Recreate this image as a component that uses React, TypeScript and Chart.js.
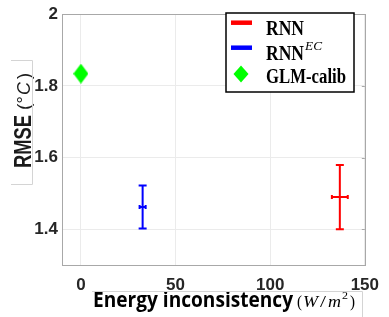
import React, { useEffect, useRef } from "react";
import { Chart, registerables } from "chart.js";

Chart.register(...registerables);

const methods = ["RNN", "RNN^EC", "GLM-calib"];
const colors = ["#ff0000", "#0000ff", "#00ff00"];
const energyX = [136.8, 32.6, 0];
const energyXErr = [4.2, 1.6, 0];
const rmse = [1.49, 1.462, 1.834];
const rmseLow = [1.4, 1.402, null];
const rmseHigh = [1.579, 1.522, null];
const xTicks = [0, 50, 100, 150];
const yTicks = [1.4, 1.6, 1.8, 2];

function makeDiamond(w: number, h: number, color: string) {
  const c = document.createElement("canvas");
  c.width = w;
  c.height = h;
  const g = c.getContext("2d")!;
  g.fillStyle = color;
  g.beginPath();
  g.moveTo(w / 2, 0);
  g.lineTo(w, h / 2);
  g.lineTo(w / 2, h);
  g.lineTo(0, h / 2);
  g.closePath();
  g.fill();
  return c;
}

function fitText(ctx: CanvasRenderingContext2D, text: string, x: number, y: number, width: number) {
  const m = ctx.measureText(text).width;
  ctx.save();
  ctx.translate(x, y);
  ctx.scale(width / m, 1);
  ctx.fillText(text, 0, 0);
  ctx.restore();
}

const decorPlugin = {
  id: "decor",
  afterDatasetsDraw(chart: any) {
    const ctx: CanvasRenderingContext2D = chart.ctx;
    const xs = chart.scales.x;
    const ys = chart.scales.y;
    const a = chart.chartArea;
    ctx.save();
    // error bars
    for (let i = 0; i < methods.length; i++) {
      if (rmseLow[i] == null) continue;
      ctx.strokeStyle = colors[i];
      ctx.lineWidth = 2;
      const cx = xs.getPixelForValue(energyX[i]);
      const cy = ys.getPixelForValue(rmse[i]);
      const yl = ys.getPixelForValue(rmseLow[i] as number);
      const yh = ys.getPixelForValue(rmseHigh[i] as number);
      ctx.beginPath();
      ctx.moveTo(cx, yl);
      ctx.lineTo(cx, yh);
      ctx.moveTo(cx - 4, yl);
      ctx.lineTo(cx + 4, yl);
      ctx.moveTo(cx - 4, yh);
      ctx.lineTo(cx + 4, yh);
      const xl = xs.getPixelForValue(energyX[i] - energyXErr[i]);
      const xh = xs.getPixelForValue(energyX[i] + energyXErr[i]);
      ctx.moveTo(xl, cy);
      ctx.lineTo(xh, cy);
      ctx.moveTo(xl, cy - 2);
      ctx.lineTo(xl, cy + 2);
      ctx.moveTo(xh, cy - 2);
      ctx.lineTo(xh, cy + 2);
      ctx.stroke();
    }
    // plot box
    ctx.strokeStyle = "#a8a8a8";
    ctx.lineWidth = 1;
    ctx.strokeRect(Math.round(a.left) + 0.5, Math.round(a.top) + 0.5, Math.round(a.right - a.left), Math.round(a.bottom - a.top));
    ctx.beginPath();
    for (const t of yTicks) {
      const py = Math.round(ys.getPixelForValue(t)) + 0.5;
      ctx.moveTo(a.right, py);
      ctx.lineTo(a.right - 3, py);
    }
    ctx.stroke();

    // legend
    const lx = 226, ly = 13, lw = 128, lh = 79;
    ctx.fillStyle = "#ffffff";
    ctx.fillRect(lx, ly, lw, lh);
    ctx.strokeStyle = "#000000";
    ctx.lineWidth = 1.5;
    ctx.strokeRect(lx, ly, lw, lh);
    ctx.lineWidth = 4.5;
    ctx.strokeStyle = colors[0];
    ctx.beginPath();
    ctx.moveTo(231, 22.7);
    ctx.lineTo(252, 22.7);
    ctx.stroke();
    ctx.strokeStyle = colors[1];
    ctx.beginPath();
    ctx.moveTo(231, 47.7);
    ctx.lineTo(252, 47.7);
    ctx.stroke();
    ctx.fillStyle = colors[2];
    ctx.beginPath();
    ctx.moveTo(241, 65.5);
    ctx.lineTo(248.5, 74);
    ctx.lineTo(241, 82.5);
    ctx.lineTo(233.5, 74);
    ctx.closePath();
    ctx.fill();
    ctx.fillStyle = "#000000";
    ctx.textBaseline = "alphabetic";
    ctx.textAlign = "left";
    ctx.font = 'bold 20px "Liberation Serif"';
    fitText(ctx, "RNN", 266, 35, 38);
    fitText(ctx, "RNN", 266, 60, 38);
    fitText(ctx, "GLM-calib", 266, 83, 80);
    ctx.font = 'italic 13px "Liberation Serif"';
    fitText(ctx, "EC", 305, 50, 17);

    // x label
    ctx.fillStyle = "#000000";
    ctx.font = 'bold 21px "Open Sans"';
    fitText(ctx, "Energy inconsistency", 93, 307, 200);
    ctx.font = '17px "Liberation Serif"';
    fitText(ctx, "(", 297, 307, 5);
    ctx.font = 'italic 17px "Liberation Serif"';
    fitText(ctx, "W", 303, 307, 15);
    ctx.font = '17px "Liberation Serif"';
    fitText(ctx, "/", 320, 307, 6);
    ctx.font = 'italic 17px "Liberation Serif"';
    fitText(ctx, "m", 328, 307, 13);
    ctx.font = '11px "Liberation Serif"';
    fitText(ctx, "2", 342, 299, 6);
    ctx.font = '17px "Liberation Serif"';
    fitText(ctx, ")", 350, 307, 5);
    ctx.strokeStyle = "#d4d4d4";
    ctx.lineWidth = 1;
    ctx.beginPath();
    ctx.moveTo(92, 291.5);
    ctx.lineTo(362.5, 291.5);
    ctx.lineTo(362.5, 317);
    ctx.stroke();

    // y label
    ctx.save();
    ctx.translate(31, 168);
    ctx.rotate(-Math.PI / 2);
    ctx.fillStyle = "#1a1a1a";
    ctx.font = 'bold 23px "Liberation Sans"';
    fitText(ctx, "RMSE", 0, 0, 53);
    ctx.font = '18px "Liberation Sans"';
    fitText(ctx, "(°", 58, -1, 14);
    ctx.font = 'italic 18px "Liberation Sans"';
    fitText(ctx, "C", 73, -1, 13);
    ctx.font = '18px "Liberation Sans"';
    fitText(ctx, ")", 89, -1, 6);
    ctx.restore();
    ctx.strokeStyle = "#d4d4d4";
    ctx.beginPath();
    ctx.moveTo(11, 60.5);
    ctx.lineTo(32.5, 60.5);
    ctx.lineTo(32.5, 184.5);
    ctx.lineTo(11, 184.5);
    ctx.stroke();
    ctx.restore();
  },
};

export default function App() {
  const ref = useRef<HTMLCanvasElement>(null);
  useEffect(() => {
    const diamond = makeDiamond(15, 20, colors[2]);
    const chart = new Chart(ref.current!, {
      type: "scatter",
      data: {
        datasets: methods.map((m, i) => ({
          label: m,
          data: [{ x: energyX[i], y: rmse[i] }],
          backgroundColor: colors[i],
          borderColor: colors[i],
          pointRadius: rmseLow[i] == null ? 10 : 0,
          pointStyle: rmseLow[i] == null ? (diamond as any) : "circle",
        })),
      },
      options: {
        animation: false,
        responsive: false,
        maintainAspectRatio: false,
        layout: { padding: { top: 6, right: 16, left: 0, bottom: 0 } },
        plugins: { legend: { display: false }, tooltip: { enabled: false } },
        scales: {
          x: {
            type: "linear",
            min: -10,
            max: 150,
            afterFit: (s: any) => {
              s.height = 52;
            },
            afterBuildTicks: (s: any) => {
              s.ticks = xTicks.map((v) => ({ value: v }));
            },
            grid: { color: "#ebebeb", drawTicks: false },
            border: { display: false },
            ticks: {
              padding: 10,
              color: "#262626",
              font: { family: "Liberation Sans", size: 17, weight: "bold" },
              callback: (v: any) => String(v),
            },
          },
          y: {
            type: "linear",
            min: 1.3,
            max: 2,
            afterFit: (s: any) => {
              s.width = 62;
            },
            afterBuildTicks: (s: any) => {
              s.ticks = yTicks.map((v) => ({ value: v }));
            },
            grid: { color: "#ebebeb", drawTicks: false },
            border: { display: false },
            ticks: {
              padding: 4,
              color: "#262626",
              font: { family: "Liberation Sans", size: 17, weight: "bold" },
              callback: (v: any) => String(+Number(v).toFixed(1)),
            },
          },
        },
      },
      plugins: [decorPlugin],
    });
    return () => chart.destroy();
  }, []);
  return (
    <div style={{ position: "fixed", left: 0, top: 0, width: 389, height: 317, background: "#fff" }}>
      <canvas ref={ref} width={389} height={317} style={{ width: 389, height: 317 }} />
    </div>
  );
}
